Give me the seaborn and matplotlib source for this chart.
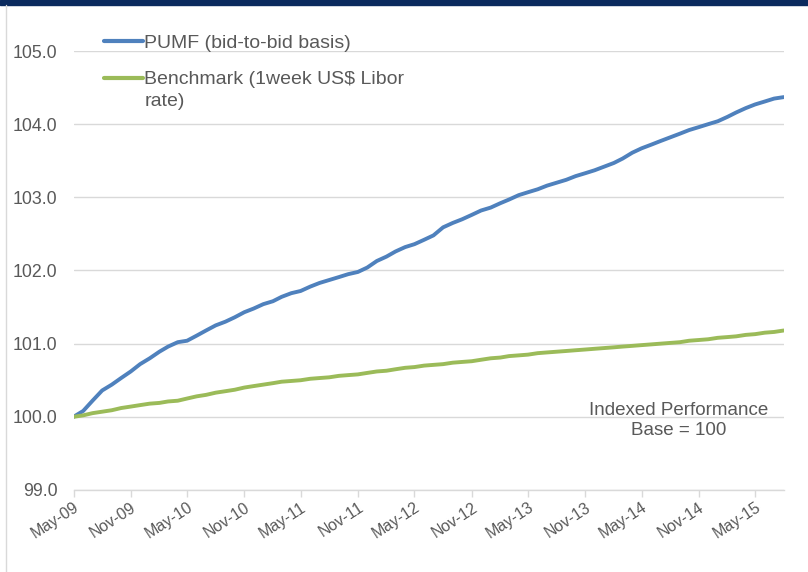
import pandas as pd
import matplotlib.pyplot as plt
import matplotlib.dates as mdates
import seaborn as sns

# monthly index values, May-09 .. Aug-15
months = pd.date_range('2009-05-01', periods=76, freq='MS')

pumf = [100.00, 100.08, 100.22, 100.36, 100.44, 100.53, 100.62, 100.72, 100.80, 100.89,
        100.96, 101.02, 101.04, 101.11, 101.18, 101.25, 101.30, 101.36, 101.43, 101.48,
        101.54, 101.58, 101.64, 101.69, 101.72, 101.78, 101.83, 101.87, 101.91, 101.95,
        101.98, 102.04, 102.13, 102.19, 102.26, 102.32, 102.36, 102.42, 102.48, 102.59,
        102.65, 102.70, 102.76, 102.82, 102.86, 102.92, 102.97, 103.03, 103.07, 103.11,
        103.16, 103.20, 103.24, 103.29, 103.33, 103.37, 103.42, 103.47, 103.53, 103.61,
        103.67, 103.72, 103.77, 103.82, 103.87, 103.92, 103.96, 104.00, 104.04, 104.10,
        104.16, 104.22, 104.27, 104.31, 104.35, 104.37]

benchmark = [100.00, 100.02, 100.05, 100.07, 100.09, 100.12, 100.14, 100.16, 100.18, 100.19,
             100.21, 100.22, 100.25, 100.28, 100.30, 100.33, 100.35, 100.37, 100.40, 100.42,
             100.44, 100.46, 100.48, 100.49, 100.50, 100.52, 100.53, 100.54, 100.56, 100.57,
             100.58, 100.60, 100.62, 100.63, 100.65, 100.67, 100.68, 100.70, 100.71, 100.72,
             100.74, 100.75, 100.76, 100.78, 100.80, 100.81, 100.83, 100.84, 100.85, 100.87,
             100.88, 100.89, 100.90, 100.91, 100.92, 100.93, 100.94, 100.95, 100.96, 100.97,
             100.98, 100.99, 101.00, 101.01, 101.02, 101.04, 101.05, 101.06, 101.08, 101.09,
             101.10, 101.12, 101.13, 101.15, 101.16, 101.18]

series_names = ['PUMF (bid-to-bid basis)', 'Benchmark (1week US$ Libor rate)']
legend_labels = ['PUMF (bid-to-bid basis)', 'Benchmark (1week US$ Libor']
colors = ['#4F81BD', '#9BBB59']

df = pd.DataFrame({'date': months, series_names[0]: pumf, series_names[1]: benchmark})
long_df = df.melt(id_vars='date', var_name='series', value_name='index')

sns.set_theme(style='white')
plt.rcParams['font.family'] = ['Liberation Sans', 'DejaVu Sans']
grey = '#595959'

fig = plt.figure(figsize=(8.08, 5.72), dpi=100)
ax = fig.add_axes([0.091, 0.1434, 0.879, 0.7674])

sns.lineplot(data=long_df, x='date', y='index', hue='series', palette=colors,
             linewidth=2.8, ax=ax, legend=False)

ax.set_xlim(months[0], months[-1])
ax.set_ylim(99, 105)
ax.set_yticks([99, 100, 101, 102, 103, 104, 105])
ax.yaxis.set_major_formatter(plt.FuncFormatter(lambda v, p: f'{v:.1f}'))
ax.grid(axis='y', color='#D9D9D9', linewidth=1)
ax.set_axisbelow(True)

ax.xaxis.set_major_locator(mdates.MonthLocator(bymonth=[5, 11]))
ax.xaxis.set_major_formatter(mdates.DateFormatter('%b-%y'))
ax.tick_params(axis='x', colors='#D9D9D9', labelcolor=grey, labelsize=11.5, length=5,
               width=1, direction='out', bottom=True, rotation=33, pad=2)
for lbl in ax.get_xticklabels():
    lbl.set_ha('right')
    lbl.set_rotation_mode('anchor')
ax.tick_params(axis='y', labelcolor=grey, labelsize=12.8, length=0, pad=11.5)

for s in ['top', 'right', 'left']:
    ax.spines[s].set_visible(False)
ax.spines['bottom'].set_color('#D9D9D9')
ax.spines['bottom'].set_linewidth(1)
ax.set_xlabel('')
ax.set_ylabel('')

# legend: handle sits on the first line of the wrapped benchmark label
handles = [plt.Line2D([], [], color=c, linewidth=3) for c in colors]
leg = fig.legend(handles, legend_labels, loc='upper left', bbox_to_anchor=(0.107, 0.97),
                 frameon=False, fontsize=14, handlelength=2.0, handletextpad=0.08,
                 labelspacing=0.95, labelcolor=grey)
fig.canvas.draw()
bx = leg.get_texts()[1].get_window_extent().x0 / fig.bbox.width
fig.text(bx, 1 - 101 / 572, 'rate)', ha='left', va='center', fontsize=14, color=grey)

ax.text(0.852, 0.158, 'Indexed Performance\nBase = 100', transform=ax.transAxes,
        ha='center', va='center', fontsize=13.5, color=grey, linespacing=1.2)

# navy band across the top and thin frame line on the left
fig.patches.append(plt.Rectangle((0, 0.991), 1, 0.009, transform=fig.transFigure,
                                 color='#0B2A5E', zorder=0))
fig.lines.append(plt.Line2D([0.007, 0.007], [0, 0.991], transform=fig.transFigure,
                            color='#D9D9D9', linewidth=1))

fig.savefig('out.png', dpi=100, facecolor='white')
plt.close(fig)
